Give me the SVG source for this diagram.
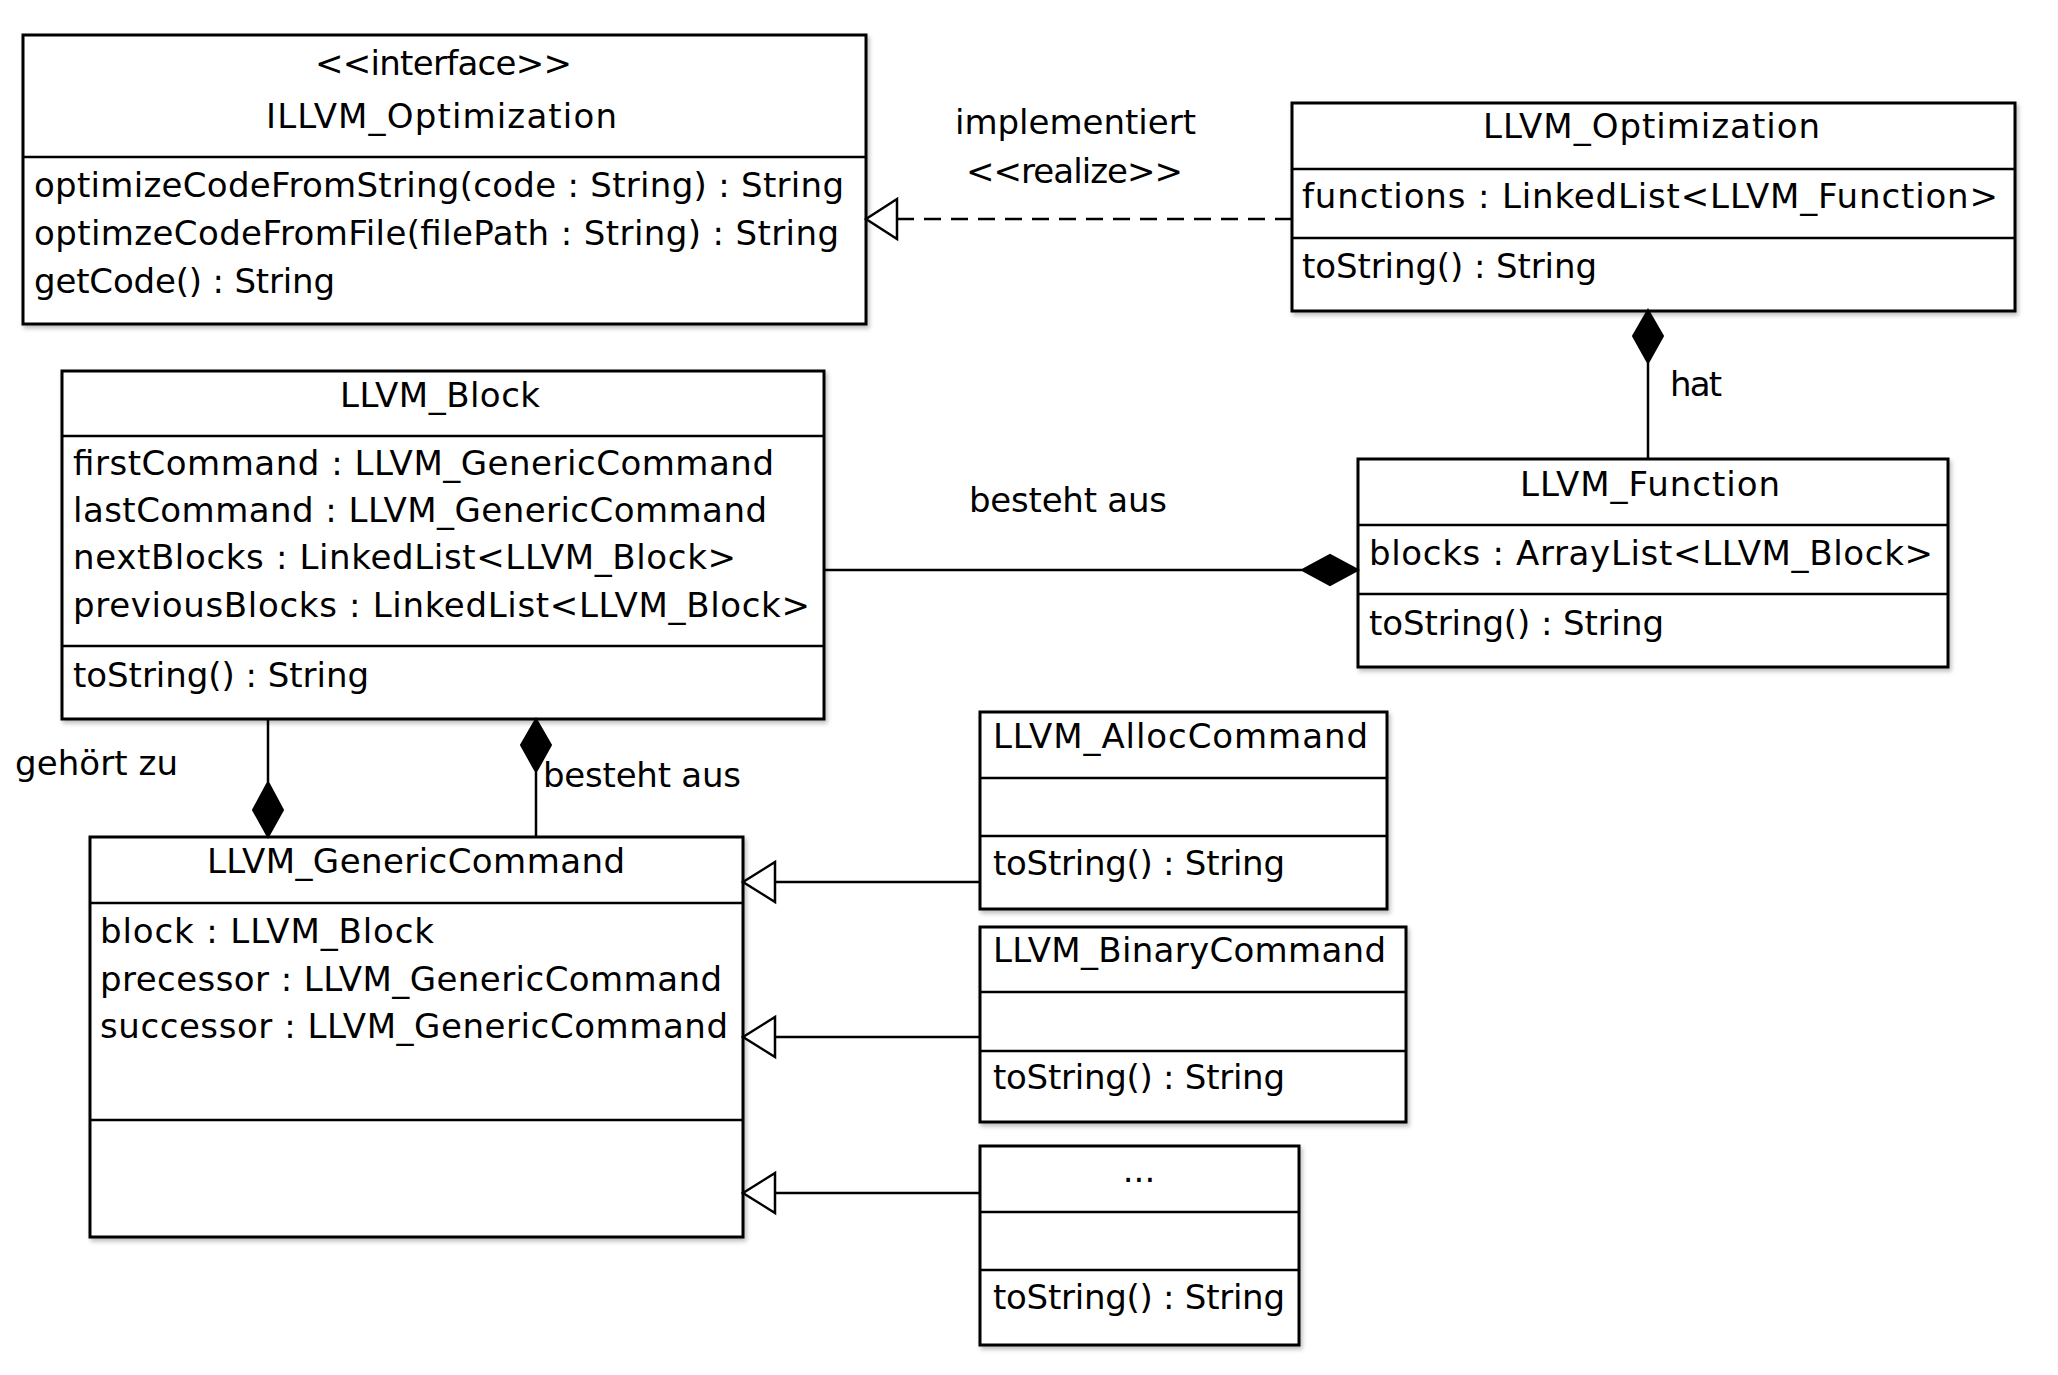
<svg xmlns="http://www.w3.org/2000/svg" width="2058" height="1375" viewBox="0 0 2058 1375">
<style>
.box{fill:#fff;stroke:#000;stroke-width:3;filter:url(#sh)}
.div{stroke:#000;stroke-width:2.5}
text{font-family:"DejaVu Sans","Liberation Sans",sans-serif;font-size:34px;fill:#000}
.c{text-anchor:middle}
.ln{stroke:#000;stroke-width:2.5;fill:none}
.dash{stroke-dasharray:17 10}
.dia{fill:#000;stroke:#000;stroke-width:2}
.tri{fill:#fff;stroke:#000;stroke-width:2.5}
</style>
<defs>
<filter id="sh" x="-5%" y="-5%" width="110%" height="115%">
<feDropShadow dx="2" dy="3" stdDeviation="2" flood-color="#000" flood-opacity="0.25"/>
</filter>
</defs>
<rect width="2058" height="1375" fill="#fff"/>

<g id="ILLVM_Optimization">
<rect class="box" x="23" y="35" width="843" height="289"/>
<line class="div" x1="23" y1="157" x2="866" y2="157"/>
<text x="315" y="75" textLength="257">&lt;&lt;interface&gt;&gt;</text>
<text x="266" y="128" textLength="351">ILLVM_Optimization</text>
<text x="34" y="197" textLength="810">optimizeCodeFromString(code : String) : String</text>
<text x="34" y="245" textLength="805">optimzeCodeFromFile(filePath : String) : String</text>
<text x="34" y="293" textLength="301">getCode() : String</text>
</g>

<g id="LLVM_Optimization">
<rect class="box" x="1292" y="103" width="723" height="208"/>
<line class="div" x1="1292" y1="169" x2="2015" y2="169"/>
<line class="div" x1="1292" y1="238" x2="2015" y2="238"/>
<text x="1483" y="138" textLength="337">LLVM_Optimization</text>
<text x="1302" y="208" textLength="696">functions : LinkedList&lt;LLVM_Function&gt;</text>
<text x="1302" y="278" textLength="295">toString() : String</text>
</g>

<g id="LLVM_Block">
<rect class="box" x="62" y="371" width="762" height="348"/>
<line class="div" x1="62" y1="436" x2="824" y2="436"/>
<line class="div" x1="62" y1="646" x2="824" y2="646"/>
<text x="340" y="407" textLength="200">LLVM_Block</text>
<text x="73" y="475" textLength="701">firstCommand : LLVM_GenericCommand</text>
<text x="73" y="522" textLength="694">lastCommand : LLVM_GenericCommand</text>
<text x="73" y="569" textLength="663">nextBlocks : LinkedList&lt;LLVM_Block&gt;</text>
<text x="73" y="617" textLength="737">previousBlocks : LinkedList&lt;LLVM_Block&gt;</text>
<text x="73" y="687" textLength="296">toString() : String</text>
</g>

<g id="LLVM_Function">
<rect class="box" x="1358" y="459" width="590" height="208"/>
<line class="div" x1="1358" y1="525" x2="1948" y2="525"/>
<line class="div" x1="1358" y1="594" x2="1948" y2="594"/>
<text x="1520" y="496" textLength="260">LLVM_Function</text>
<text x="1369" y="565" textLength="564">blocks : ArrayList&lt;LLVM_Block&gt;</text>
<text x="1369" y="635" textLength="295">toString() : String</text>
</g>

<g id="LLVM_GenericCommand">
<rect class="box" x="90" y="837" width="653" height="400"/>
<line class="div" x1="90" y1="903" x2="743" y2="903"/>
<line class="div" x1="90" y1="1120" x2="743" y2="1120"/>
<text x="207" y="873" textLength="418">LLVM_GenericCommand</text>
<text x="100" y="943" textLength="334">block : LLVM_Block</text>
<text x="100" y="991" textLength="622">precessor : LLVM_GenericCommand</text>
<text x="100" y="1038" textLength="628">successor : LLVM_GenericCommand</text>
</g>

<g id="LLVM_AllocCommand">
<rect class="box" x="980" y="712" width="407" height="197"/>
<line class="div" x1="980" y1="778" x2="1387" y2="778"/>
<line class="div" x1="980" y1="836" x2="1387" y2="836"/>
<text x="993" y="748" textLength="375">LLVM_AllocCommand</text>
<text x="993" y="875" textLength="292">toString() : String</text>
</g>

<g id="LLVM_BinaryCommand">
<rect class="box" x="980" y="927" width="426" height="195"/>
<line class="div" x1="980" y1="992" x2="1406" y2="992"/>
<line class="div" x1="980" y1="1051" x2="1406" y2="1051"/>
<text x="993" y="962" textLength="393">LLVM_BinaryCommand</text>
<text x="993" y="1089" textLength="292">toString() : String</text>
</g>

<g id="MoreCommands">
<rect class="box" x="980" y="1146" width="319" height="199"/>
<line class="div" x1="980" y1="1212" x2="1299" y2="1212"/>
<line class="div" x1="980" y1="1270" x2="1299" y2="1270"/>
<text class="c" x="1139" y="1182">...</text>
<text x="993" y="1309" textLength="292">toString() : String</text>
</g>

<g id="connectors">
<line class="ln dash" x1="1292" y1="219" x2="897" y2="219"/>
<polygon class="tri" points="866,219 897,199 897,239"/>
<text x="955" y="134" textLength="241">implementiert</text>
<text x="966" y="183" textLength="217">&lt;&lt;realize&gt;&gt;</text>

<polygon class="dia" points="1648,310 1663,336 1648,363 1633,336"/>
<line class="ln" x1="1648" y1="363" x2="1648" y2="459"/>
<text x="1670" y="396" textLength="52">hat</text>

<line class="ln" x1="824" y1="570" x2="1302" y2="570"/>
<polygon class="dia" points="1358,570 1330,555 1302,570 1330,585"/>
<text x="969" y="512" textLength="198">besteht aus</text>

<line class="ln" x1="268" y1="719" x2="268" y2="782"/>
<polygon class="dia" points="268,782 283,810 268,837 253,810"/>
<text x="15" y="775" textLength="163">gehört zu</text>

<polygon class="dia" points="536,719 551,745 536,772 521,745"/>
<line class="ln" x1="536" y1="772" x2="536" y2="837"/>
<text x="543" y="787" textLength="198">besteht aus</text>

<line class="ln" x1="775" y1="882" x2="980" y2="882"/>
<polygon class="tri" points="743,882 775,862 775,902"/>
<line class="ln" x1="775" y1="1037" x2="980" y2="1037"/>
<polygon class="tri" points="743,1037 775,1017 775,1057"/>
<line class="ln" x1="775" y1="1193" x2="980" y2="1193"/>
<polygon class="tri" points="743,1193 775,1173 775,1213"/>
</g>
</svg>
